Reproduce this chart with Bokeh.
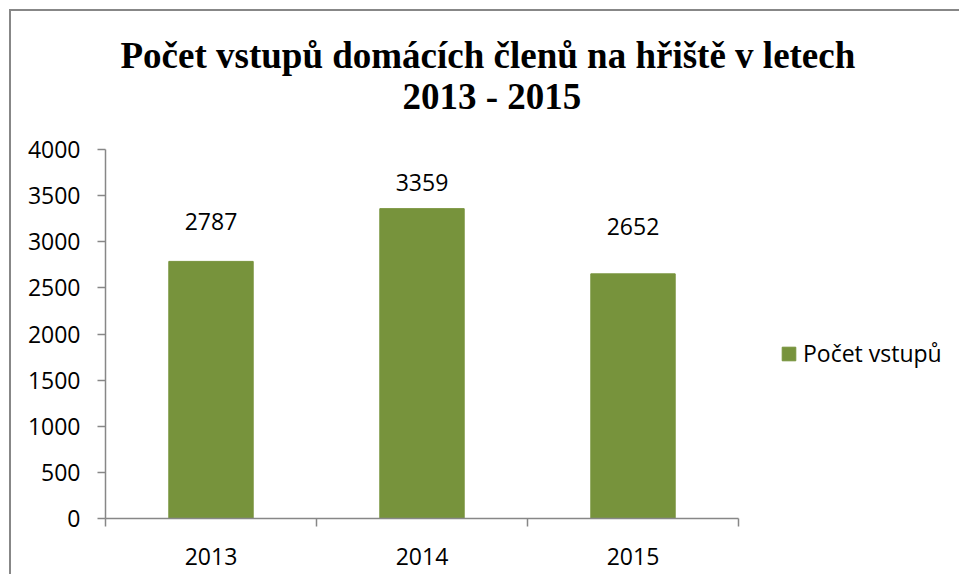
from bokeh.plotting import figure
from bokeh.models import (Range1d, FixedTicker, Title, Legend, LegendItem,
                          ColumnDataSource, LinearAxis)
from bokeh.core.properties import value
from bokeh.embed import file_html
from bokeh.resources import INLINE

# ---- data ----
years = ["2013", "2014", "2015"]
counts = [2787, 3359, 2652]
series_name = "Počet vstupů"
title_line1 = "Počet vstupů domácích členů na hřiště v letech"
title_line2 = "2013 - 2015"
y_ticks = [0, 500, 1000, 1500, 2000, 2500, 3000, 3500, 4000]

# styling (label vertical offsets in px, as placed in the original)
label_offsets = [-40, -26, -47]

BAR = "#77933C"
GRID = "#878787"
FONT = "Open Sans"
FS = "23px"

xc = [i + 0.5 for i in range(len(years))]
src = ColumnDataSource(dict(x=xc, top=counts, lab=[str(c) for c in counts],
                            yo=label_offsets))

p = figure(frame_width=633, frame_height=369, output_backend="svg", toolbar_location=None,
           x_range=Range1d(0, len(years)), y_range=Range1d(0, 4000),
           min_border_left=94, min_border_right=219, min_border_top=138,
           min_border_bottom=56, x_axis_type=None, y_axis_type=None)
p.styles = {"border-top": "2px solid #878787", "border-left": "2px solid #878787",
            "margin-top": "9px", "margin-left": "9px"}
p.outline_line_color = None
p.background_fill_color = "white"
p.border_fill_color = "white"

# axes
yax = LinearAxis(ticker=FixedTicker(ticks=y_ticks, minor_ticks=[]))
yax.axis_line_color = GRID
yax.axis_line_width = 1.5
yax.major_tick_line_color = GRID
yax.major_tick_line_width = 1.5
yax.major_tick_in = 0
yax.major_tick_out = 8
yax.minor_tick_line_color = None
yax.major_label_text_font = FONT
yax.major_label_text_font_size = FS
yax.major_label_text_color = "black"
yax.major_label_standoff = 17
p.add_layout(yax, "left")

xax = LinearAxis(ticker=FixedTicker(ticks=xc, minor_ticks=list(range(len(years) + 1))))
xax.major_label_overrides = {x: y for x, y in zip(xc, years)}
xax.axis_line_color = GRID
xax.axis_line_width = 1.5
xax.major_tick_line_color = None
xax.major_tick_in = 0
xax.major_tick_out = 0
xax.minor_tick_line_color = GRID
xax.minor_tick_line_width = 1.5
xax.minor_tick_in = 0
xax.minor_tick_out = 8
xax.major_label_text_font = FONT
xax.major_label_text_font_size = FS
xax.major_label_text_color = "black"
xax.major_label_standoff = 21
p.add_layout(xax, "below")

p.ygrid.ticker = FixedTicker(ticks=y_ticks)
p.ygrid.grid_line_color = GRID
p.ygrid.grid_line_width = 1.5
p.xgrid.grid_line_color = None

bars = p.vbar(x="x", top="top", bottom=0, width=0.4, source=src,
              fill_color=BAR, line_color=BAR)

p.text(x="x", y="top", text="lab", y_offset="yo", source=src,
       text_font=value(FONT), text_font_size=FS, text_color="black",
       text_align="center", text_baseline="middle")

# titles
t2 = Title(text=title_line2, align="left", offset=297,
           text_font="Liberation Serif", text_font_size="37px",
           text_font_style="bold", text_color="black", standoff=66)
t1 = Title(text=title_line1, align="left", offset=15,
           text_font="Liberation Serif", text_font_size="37px",
           text_font_style="bold", text_color="black", standoff=-70)
p.add_layout(t2, "above")
p.add_layout(t1, "above")

legend = Legend(items=[LegendItem(label=series_name, renderers=[bars])],
                location=(42, 149), padding=0, margin=0, border_line_color=None,
                background_fill_alpha=0, glyph_width=17, glyph_height=17,
                label_height=17, label_standoff=6,
                label_text_font=FONT, label_text_font_size=FS,
                label_text_color="black")
p.add_layout(legend, "right")

open("out.html", "w").write(file_html(p, INLINE))
